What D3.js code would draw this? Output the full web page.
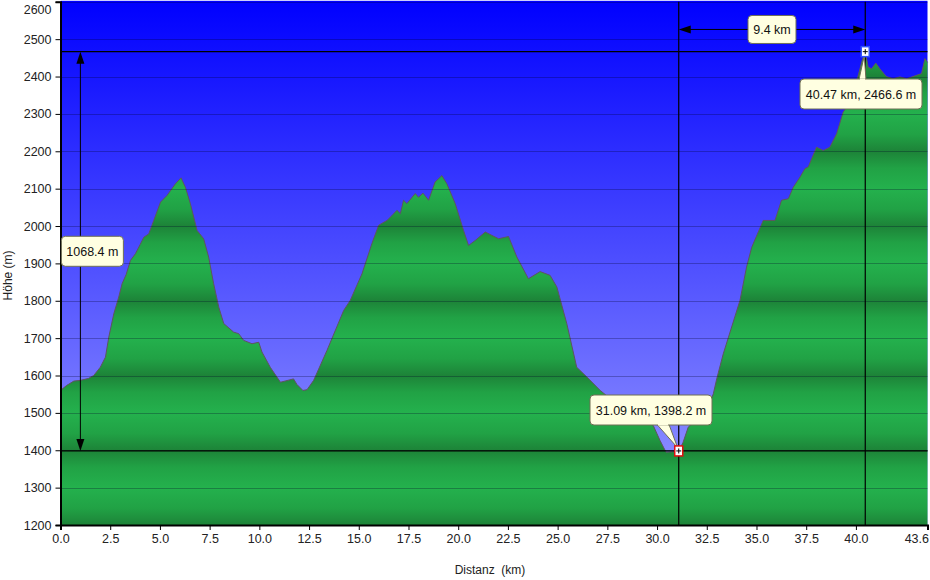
<!DOCTYPE html>
<html><head><meta charset="utf-8">
<script src="https://cdn.jsdelivr.net/npm/d3@7"></script>
<style>
html,body{margin:0;padding:0;background:#fff;}
svg{display:block;}
text{font-family:"Liberation Sans",Arial,sans-serif;}
</style></head>
<body><svg id="c" width="930" height="580"></svg>
<script>
// ---- data ----
const distKm = [0.0,0.3,0.67,1.0,1.4,1.67,2.0,2.26,2.43,2.68,2.93,3.1,3.3,3.52,3.77,4.0,4.19,4.44,4.69,5.03,5.36,5.78,6.06,6.28,6.53,6.87,7.2,7.45,7.7,7.96,8.21,8.71,8.96,9.21,9.63,9.97,10.13,10.55,11.06,11.72,11.89,12.19,12.4,12.73,13.4,14.24,14.57,15.16,15.66,16.0,16.42,16.67,16.92,17.09,17.25,17.42,17.84,18.0,18.23,18.51,18.84,19.18,19.43,19.85,20.27,20.52,20.85,21.36,21.69,22.03,22.53,22.95,23.53,24.12,24.62,24.96,25.46,25.96,26.47,27.14,27.6,28.2,28.8,29.3,29.81,30.15,30.45,30.8,31.09,31.3,31.57,32.3,32.6,32.83,33.0,33.33,34.17,34.5,34.76,35.34,35.93,36.26,36.6,36.85,37.19,37.44,37.6,38.02,38.36,38.69,39.03,39.36,39.7,40.1,40.3,40.47,40.62,40.79,41.0,41.2,41.53,41.87,42.21,42.55,43.3,43.47,43.6];
const elevM = [1560,1573,1585,1587,1592,1600,1622,1649,1703,1765,1810,1846,1870,1908,1926,1950,1970,1979,2015,2064,2082,2113,2129,2104,2060,1988,1966,1917,1846,1783,1739,1716,1712,1694,1685,1689,1663,1622,1582,1591,1576,1560,1562,1587,1667,1774,1801,1872,1953,2002,2015,2028,2042,2033,2069,2060,2087,2077,2088,2069,2118,2135,2113,2060,1988,1948,1961,1984,1975,1966,1972,1917,1859,1878,1868,1837,1739,1622,1596,1560,1540,1515,1495,1485,1466,1426,1395,1396,1398.2,1420,1462,1497,1520,1551,1591,1658,1801,1890,1943,2015,2015,2069,2073,2104,2131,2154,2158,2211,2202,2211,2247,2305,2330,2400,2440,2466.6,2425,2421,2436,2421,2400,2394,2399,2394,2408,2448,2438];
const xTicks = [0,2.5,5,7.5,10,12.5,15,17.5,20,22.5,25,27.5,30,32.5,35,37.5,40,43.6];
const yTicks = [1200,1300,1400,1500,1600,1700,1800,1900,2000,2100,2200,2300,2400,2500,2600];
const lowPoint = {km:31.09, m:1398.2, label:"31.09 km, 1398.2 m"};
const highPoint = {km:40.47, m:2466.6, label:"40.47 km, 2466.6 m"};
const diffLabels = {height:"1068.4 m", dist:"9.4 km", heightArrowKm:1.0, distArrowM:2526};
const axisTitles = {x:"Distanz  (km)", y:"Höhe (m)"};

// ---- chart ----
const svg = d3.select("#c");
const x = d3.scaleLinear().domain([0,43.6]).range([60.5,927.5]);
const y = d3.scaleLinear().domain([1200,2600]).range([525,1.8]);
const data = distKm.map((d,i)=>({d, e:elevM[i]}));
const defs = svg.append("defs");

const bg = defs.append("linearGradient").attr("id","bg").attr("x1",0).attr("x2",0).attr("y1",0).attr("y2",1);
bg.append("stop").attr("offset",0).attr("stop-color","#0000ff");
bg.append("stop").attr("offset",1).attr("stop-color","#9c9eff");

const gr = defs.append("linearGradient").attr("id","gr").attr("gradientUnits","userSpaceOnUse")
  .attr("x1",0).attr("x2",0).attr("y1",y(1400)).attr("y2",y(1500)).attr("spreadMethod","reflect");
gr.append("stop").attr("offset",0).attr("stop-color","#1d8338");
gr.append("stop").attr("offset",0.45).attr("stop-color","#21a245");
gr.append("stop").attr("offset",1).attr("stop-color","#24b14d");

svg.append("rect").attr("x",x(0)).attr("y",y(2600)-1).attr("width",x(43.6)-x(0)).attr("height",y(1200)-y(2600)+1).attr("fill","url(#bg)");

svg.append("path").datum(data)
  .attr("d", d3.area().x(p=>x(p.d)).y0(y(1200)).y1(p=>y(p.e)))
  .attr("fill","url(#gr)");
svg.append("path").datum(data)
  .attr("d", d3.line().x(p=>x(p.d)).y(p=>y(p.e)))
  .attr("fill","none").attr("stroke","#5e5460").attr("stroke-width",1);

// gridlines
svg.append("g").selectAll("line").data(yTicks.slice(1)).join("line")
  .attr("x1",x(0)).attr("x2",x(43.6)).attr("y1",d=>Math.round(y(d))+0.5).attr("y2",d=>Math.round(y(d))+0.5)
  .attr("stroke","rgba(0,0,40,0.28)").attr("stroke-width",1);

// marker lines
const mk = svg.append("g").attr("stroke","#000").attr("stroke-width",1.2);
[lowPoint, highPoint].forEach(p=>{
  mk.append("line").attr("x1",x(0)).attr("x2",x(43.6)).attr("y1",y(p.m)).attr("y2",y(p.m));
  mk.append("line").attr("x1",x(p.km)).attr("x2",x(p.km)).attr("y1",y(2600)).attr("y2",y(1200));
});

// arrows
function vArrow(xp, ya, yb){
  const g = svg.append("g");
  g.append("line").attr("x1",xp).attr("x2",xp).attr("y1",ya+8).attr("y2",yb-8).attr("stroke","#000");
  g.append("path").attr("d",`M${xp},${ya}L${xp-4},${ya+12}L${xp+4},${ya+12}Z`).attr("fill","#000");
  g.append("path").attr("d",`M${xp},${yb}L${xp-4},${yb-12}L${xp+4},${yb-12}Z`).attr("fill","#000");
}
function hArrow(yp, xa, xb){
  const g = svg.append("g");
  g.append("line").attr("x1",xa+8).attr("x2",xb-8).attr("y1",yp).attr("y2",yp).attr("stroke","#000");
  g.append("path").attr("d",`M${xa},${yp}L${xa+12},${yp-4}L${xa+12},${yp+4}Z`).attr("fill","#000");
  g.append("path").attr("d",`M${xb},${yp}L${xb-12},${yp-4}L${xb-12},${yp+4}Z`).attr("fill","#000");
}
vArrow(x(diffLabels.heightArrowKm), y(highPoint.m), y(lowPoint.m));
hArrow(y(diffLabels.distArrowM), x(lowPoint.km), x(highPoint.km));

// axes
const xa = svg.append("g").attr("transform",`translate(0,${y(1200)})`)
  .call(d3.axisBottom(x).tickValues(xTicks).tickFormat(d3.format(".1f")).tickSize(5).tickPadding(4));
xa.select(".domain").attr("stroke","#000").attr("stroke-width",2);
xa.selectAll("text").attr("font-size","12.5px").attr("fill","#222").attr("font-family","Liberation Sans, Arial");
xa.selectAll(".tick").filter(d=>d===43.6).select("text").attr("text-anchor","end").attr("dx","1");
const ya = svg.append("g").attr("transform",`translate(${x(0)},0)`)
  .call(d3.axisLeft(y).tickValues(yTicks).tickFormat(d3.format("d")).tickSize(5).tickPadding(4));
ya.select(".domain").attr("stroke","#000").attr("stroke-width",2);
ya.selectAll("text").attr("font-size","12.5px").attr("fill","#222").attr("font-family","Liberation Sans, Arial");
ya.selectAll(".tick").filter(d=>d===2600).select("text").attr("dy","0.9em");

svg.append("text").attr("x",(x(0)+x(43.6))/2-4).attr("y",574).attr("text-anchor","middle")
  .attr("font-size","12px").attr("fill","#222").style("white-space","pre").text(axisTitles.x);
svg.append("text").attr("transform",`translate(12,${(y(1200)+y(2600))/2+12}) rotate(-90)`).attr("text-anchor","middle")
  .attr("font-size","12px").attr("fill","#222").text(axisTitles.y);

// callout boxes
function box(cx, cy, label, w, h, tail){
  const g = svg.append("g");
  const bx = cx - w/2, by = cy - h/2;
  if(tail){
    g.append("path").attr("d",`M${tail[0][0]},${tail[0][1]}L${tail[1][0]},${tail[1][1]}L${tail[2][0]},${tail[2][1]}Z`)
      .attr("fill","#ffffe1").attr("stroke","#6f6f55").attr("stroke-width",1);
  }
  g.append("rect").attr("x",bx).attr("y",by).attr("width",w).attr("height",h).attr("rx",4)
    .attr("fill","#ffffe1").attr("stroke","#6f6f55").attr("stroke-width",1);
  if(tail){
    g.append("line").attr("x1",tail[0][0]+1).attr("x2",tail[1][0]-1).attr("y1",tail[0][1]).attr("y2",tail[1][1])
      .attr("stroke","#ffffe1").attr("stroke-width",2);
  }
  g.append("text").attr("x",cx).attr("y",cy+4.5).attr("text-anchor","middle").attr("font-size","12.5px")
    .attr("fill","#111").text(label);
}
const lx = x(lowPoint.km), lyy = y(lowPoint.m);
const hx = x(highPoint.km), hy = y(highPoint.m);
box(x(diffLabels.heightArrowKm)+12, (y(highPoint.m)+y(lowPoint.m))/2, diffLabels.height, 62, 30, null);
box((lx+hx)/2, y(diffLabels.distArrowM), diffLabels.dist, 48, 28, null);
box(651, 410, lowPoint.label, 122, 30, [[657,424.5],[669,424.5],[lx-1,lyy-3]]);
box(861, 94, highPoint.label, 122, 30, [[859,79.5],[866,79.5],[hx-1,hy+4]]);

// point markers
function pm(px, py, col){
  const g = svg.append("g");
  g.append("rect").attr("x",px-4).attr("y",py-5).attr("width",8).attr("height",10).attr("fill","#fff").attr("stroke",col).attr("stroke-width",1.5);
  g.append("path").attr("d",`M${px-2.5},${py}L${px+2.5},${py}M${px},${py-2.5}L${px},${py+2.5}`).attr("stroke","#000").attr("stroke-width",1);
}
pm(lx, lyy, "#e01010");
pm(hx, hy, "#3050ff");
</script></body></html>
